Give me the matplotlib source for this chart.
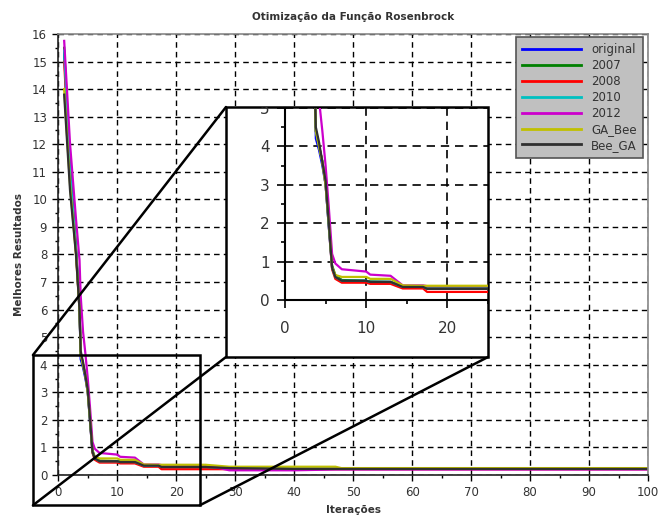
import matplotlib
matplotlib.use("Agg")
import matplotlib.pyplot as plt
from matplotlib.patches import Rectangle, ConnectionPatch
from matplotlib.ticker import MultipleLocator

# Iterações (pontos de quebra)
iteracoes = [1, 2, 3, 3.6, 3.8, 4.2, 4.6, 5.0, 5.4, 5.8, 6.2, 7, 10, 10.5, 13,
             14.5, 17, 17.5, 25, 29, 40, 47, 48, 100]

# Melhores resultados por algoritmo
original = [15.3, 11.0, 8.2, 6.0, 4.2, 3.9, 3.5, 3.0, 1.9, 0.84, 0.62, 0.5, 0.5, 0.47, 0.47,
            0.34, 0.34, 0.29, 0.29, 0.25, 0.22, 0.22, 0.22, 0.22]
v2007 = [15.5, 11.2, 8.3, 6.1, 4.4, 4.0, 3.6, 3.1, 2.0, 0.9, 0.65, 0.52, 0.5, 0.48, 0.47,
         0.35, 0.35, 0.3, 0.3, 0.25, 0.22, 0.22, 0.22, 0.22]
v2008 = [15.0, 10.8, 8.1, 6.0, 4.4, 4.0, 3.6, 3.0, 1.9, 0.8, 0.55, 0.45, 0.45, 0.42, 0.42,
         0.3, 0.3, 0.21, 0.21, 0.21, 0.21, 0.21, 0.21, 0.21]
v2010 = [15.4, 11.0, 8.2, 6.0, 4.4, 4.0, 3.6, 3.0, 1.9, 0.84, 0.6, 0.5, 0.5, 0.47, 0.47,
         0.34, 0.34, 0.29, 0.29, 0.25, 0.22, 0.22, 0.22, 0.22]
v2012 = [15.75, 12.0, 9.3, 7.8, 6.5, 5.2, 4.4, 3.5, 2.4, 1.2, 0.95, 0.8, 0.74, 0.66, 0.63,
         0.38, 0.38, 0.36, 0.36, 0.17, 0.17, 0.2, 0.2, 0.2]
ga_bee = [14.0, 10.5, 8.0, 6.0, 4.4, 4.0, 3.6, 3.0, 2.0, 0.85, 0.65, 0.6, 0.6, 0.55, 0.55,
          0.38, 0.37, 0.37, 0.37, 0.3, 0.3, 0.3, 0.25, 0.25]
bee_ga = [13.8, 10.3, 8.0, 6.0, 4.5, 4.1, 3.6, 3.1, 2.0, 0.84, 0.6, 0.5, 0.5, 0.47, 0.47,
          0.34, 0.34, 0.29, 0.29, 0.25, 0.22, 0.22, 0.22, 0.22]

series = [original, v2007, v2008, v2010, v2012, ga_bee, bee_ga]
nomes = ["original", "2007", "2008", "2010", "2012", "GA_Bee", "Bee_GA"]
cores = ["#0000ff", "#008000", "#ff0000", "#00c0c0", "#cc00cc", "#c0c000", "#303030"]

# região ampliada (coordenadas de dados do gráfico principal)
zoom_x = (-4.3, 24.0)
zoom_y = (-1.1, 4.35)

fig = plt.figure(figsize=(6.6, 5.19), dpi=100)
ax = fig.add_axes([0.0883, 0.0848, 0.8935, 0.8497])

grade = dict(color="black", linestyle=(0, (4, 3)), linewidth=1.0)

for y, nome, cor in zip(series, nomes, cores):
    ax.plot(iteracoes, y, color=cor, linewidth=1.6, label=nome)

ax.set_xlim(0, 100)
ax.set_ylim(0, 16)
ax.xaxis.set_major_locator(MultipleLocator(10))
ax.xaxis.set_minor_locator(MultipleLocator(5))
ax.yaxis.set_major_locator(MultipleLocator(1))
ax.yaxis.set_minor_locator(MultipleLocator(0.5))
ax.grid(True, which="major", **grade)
ax.tick_params(which="major", length=4, width=1, labelsize=8.5, labelcolor="#333333", pad=4)
ax.tick_params(which="minor", length=2.5, width=1)
for lado in ["left", "bottom"]:
    ax.spines[lado].set_color("#222222")
    ax.spines[lado].set_linewidth(1.2)
for lado in ["top", "right"]:
    ax.spines[lado].set_color("#888888")
    ax.spines[lado].set_linewidth(1.2)

ax.set_title("Otimização da Função Rosenbrock", fontsize=7.5, fontweight="bold",
             color="#333333", pad=10)
ax.set_xlabel("Iterações", fontsize=7.5, fontweight="bold", color="#333333", labelpad=4)
ax.set_ylabel("Melhores Resultados", fontsize=7.5, fontweight="bold", color="#333333",
              labelpad=6)

leg = ax.legend(loc="upper right", bbox_to_anchor=(0.974, 0.9287),
                bbox_transform=fig.transFigure, borderaxespad=0, fontsize=8.5,
                handlelength=5.0, handletextpad=0.9, labelspacing=0.25,
                fancybox=False, framealpha=1, borderpad=0.5)
leg.get_frame().set_facecolor("#c0c0c0")
leg.get_frame().set_edgecolor("#555555")
leg.get_frame().set_linewidth(1.2)
for linha in leg.get_lines():
    linha.set_linewidth(2.0)
for txt in leg.get_texts():
    txt.set_color("#333333")

# retângulo da região ampliada
ax.add_patch(Rectangle((zoom_x[0], zoom_y[0]), zoom_x[1] - zoom_x[0], zoom_y[1] - zoom_y[0],
                       fill=False, edgecolor="black", linewidth=1.8, clip_on=False, zorder=5))

# caixa branca do detalhe
caixa = (0.3424, 0.3121, 0.3970, 0.4817)
fundo = Rectangle((caixa[0], caixa[1]), caixa[2], caixa[3], transform=fig.transFigure,
                  facecolor="white", edgecolor="black", linewidth=1.8, zorder=3)
fig.add_artist(fundo)

# linhas de ligação
cantos = [((zoom_x[0], zoom_y[1]), (caixa[0], caixa[1] + caixa[3])),
          ((zoom_x[0], zoom_y[0]), (caixa[0], caixa[1])),
          ((zoom_x[1], zoom_y[0]), (caixa[0] + caixa[2], caixa[1]))]
for a, b in cantos:
    con = ConnectionPatch(xyA=a, coordsA=ax.transData, xyB=b, coordsB=fig.transFigure,
                          color="black", linewidth=1.8, zorder=6)
    fig.add_artist(con)

# eixo do detalhe
axi = fig.add_axes([0.4318, 0.422, 0.3076, 0.370], zorder=4)
axi.patch.set_alpha(0)
for y, cor in zip(series, cores):
    axi.plot(iteracoes, y, color=cor, linewidth=1.6)
axi.set_xlim(0, 25)
axi.set_ylim(0, 5)
axi.xaxis.set_major_locator(MultipleLocator(10))
axi.xaxis.set_minor_locator(MultipleLocator(5))
axi.yaxis.set_major_locator(MultipleLocator(1))
axi.yaxis.set_minor_locator(MultipleLocator(0.5))
axi.grid(True, which="major", color="black", linestyle=(0, (5, 3.5)), linewidth=1.2)
axi.tick_params(which="major", length=6, width=1.2, labelsize=11, labelcolor="#333333", pad=5)
axi.tick_params(axis="x", which="major", pad=9)
axi.tick_params(which="minor", length=3, width=1.2)
for lado in ["top", "right"]:
    axi.spines[lado].set_visible(False)
for lado in ["left", "bottom"]:
    axi.spines[lado].set_color("black")
    axi.spines[lado].set_linewidth(1.5)
for lab in axi.get_yticklabels():
    lab.set_clip_path(fundo)

fig.savefig("out.png", dpi=100)
